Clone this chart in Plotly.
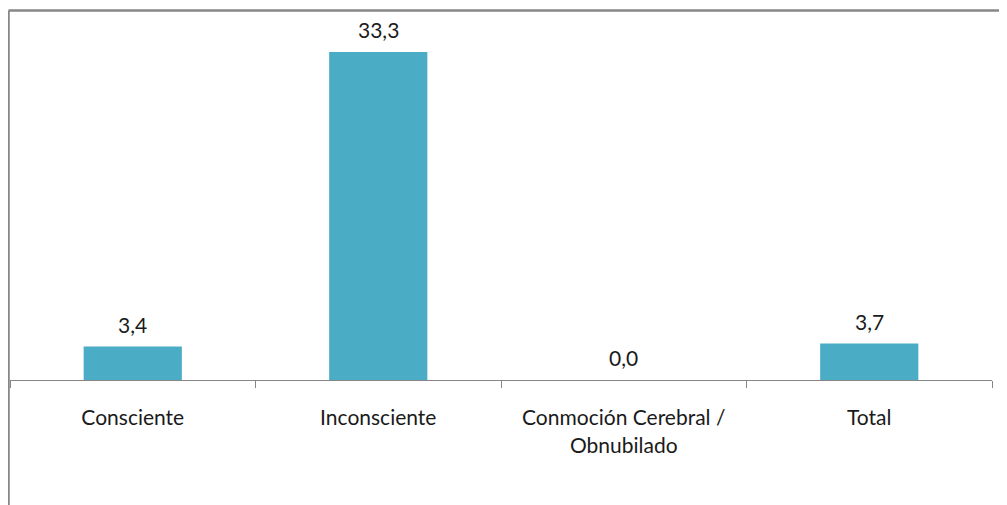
import plotly.graph_objects as go

categories = ["Consciente", "Inconsciente", "Conmoción Cerebral /<br>Obnubilado", "Total"]
values = [3.4, 33.3, 0.0, 3.7]

fig = go.Figure()
fig.add_trace(go.Bar(x=categories, y=values, marker=dict(color="#4BACC6", line=dict(width=0)),
                     width=0.4, hoverinfo="skip"))

for c, v in zip(categories, values):
    fig.add_annotation(x=c, y=v, text=f"{v:.1f}".replace(".", ","), showarrow=False,
                       yanchor="bottom", yshift=8,
                       font=dict(family="Lato", size=21, color="#1a1a1a"))

fig.update_layout(
    width=1007, height=505,
    margin=dict(l=2, r=23, t=12, b=133),
    paper_bgcolor="white", plot_bgcolor="white",
    showlegend=False,
    font=dict(family="Lato", size=21, color="#1a1a1a"),
    xaxis=dict(type="category", showline=True, linecolor="#868686", linewidth=1,
               ticks="outside", tickson="boundaries", ticklen=7, tickcolor="#868686",
               showgrid=False, zeroline=False, ticklabelstandoff=19,
               tickfont=dict(family="Lato", size=21, color="#1a1a1a")),
    yaxis=dict(range=[0, 36.55], visible=False, showgrid=False, zeroline=False),
)

fig.add_shape(type="line", xref="paper", yref="paper", x0=-0.0015, x1=-0.0015, y0=-0.45, y1=1.0264,
              line=dict(color="#878787", width=2.5), layer="above")
fig.add_shape(type="line", xref="paper", yref="paper", x0=-0.0015, x1=1.05, y0=1.0264, y1=1.0264,
              line=dict(color="#878787", width=2.5), layer="above")

fig.write_html("out.html")
